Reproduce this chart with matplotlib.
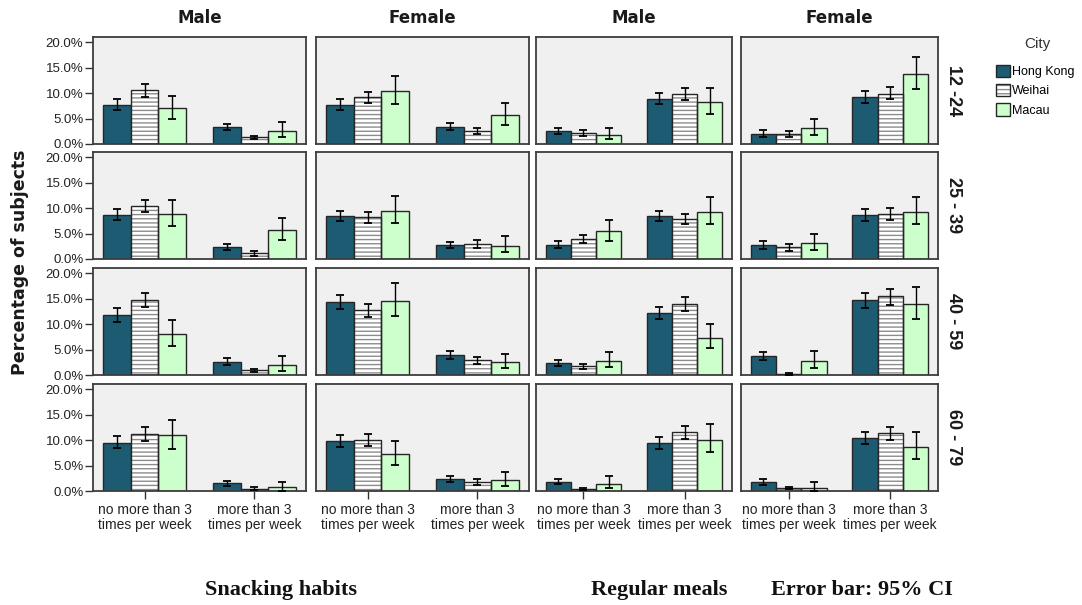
import matplotlib
matplotlib.use("Agg")
import matplotlib.pyplot as plt
from matplotlib.patches import Patch
from matplotlib.legend_handler import HandlerTuple
import numpy as np

plt.rcParams["font.family"] = ["Liberation Sans", "DejaVu Sans"]
plt.rcParams["hatch.linewidth"] = 1.0

cities = ["Hong Kong", "Weihai", "Macau"]
habit_labels = ["no more than 3\ntimes per week", "more than 3\ntimes per week"]
age_groups = ["12 -24", "25 - 39", "40 - 59", "60 - 79"]
panel_titles = ["Male", "Female", "Male", "Female"]
ytick_values = [0, 5, 10, 15, 20]

# Percentages: [age group][panel][habit category]
# panels: snacking male, snacking female, regular meals male, regular meals female
hk_mean = [
    [[7.7, 3.3], [7.7, 3.4], [2.5, 8.9], [2.0, 9.3]],
    [[8.6, 2.3], [8.4, 2.7], [2.75, 8.5], [2.7, 8.65]],
    [[11.8, 2.6], [14.3, 3.95], [2.4, 12.1], [3.7, 14.7]],
    [[9.5, 1.5], [9.8, 2.35], [1.8, 9.5], [1.7, 10.5]],
]
hk_lo = [
    [[6.6, 2.7], [6.6, 2.75], [1.9, 7.8], [1.4, 8.1]],
    [[7.6, 1.8], [7.45, 2.1], [2.1, 7.45], [1.9, 7.45]],
    [[10.5, 1.9], [13.0, 3.2], [1.85, 10.9], [2.9, 13.2]],
    [[8.4, 1.0], [8.6, 1.8], [1.4, 8.3], [1.2, 9.3]],
]
hk_hi = [
    [[8.8, 4.0], [8.8, 4.1], [3.1, 10.0], [2.7, 10.4]],
    [[9.8, 2.9], [9.5, 3.3], [3.45, 9.5], [3.5, 9.75]],
    [[13.1, 3.3], [15.7, 4.8], [3.0, 13.4], [4.5, 16.1]],
    [[10.8, 2.0], [11.0, 2.9], [2.35, 10.6], [2.3, 11.6]],
]

wh_mean = [
    [[10.6, 1.3], [9.2, 2.6], [2.2, 9.8], [1.9, 9.8]],
    [[10.4, 1.1], [8.2, 2.95], [4.0, 7.8], [2.3, 8.9]],
    [[14.8, 0.9], [12.8, 2.9], [1.7, 14.0], [0.2, 15.5]],
    [[11.2, 0.45], [10.0, 1.75], [0.4, 11.5], [0.5, 11.3]],
]
wh_lo = [
    [[9.3, 0.9], [8.1, 2.0], [1.6, 8.7], [1.4, 8.8]],
    [[9.2, 0.65], [7.05, 2.2], [3.1, 6.8], [1.65, 7.7]],
    [[13.4, 0.5], [11.4, 2.2], [1.25, 12.6], [0.05, 13.8]],
    [[9.9, 0.13], [8.8, 1.25], [0.2, 10.2], [0.3, 10.0]],
]
wh_hi = [
    [[11.8, 1.6], [10.3, 3.2], [2.8, 11.0], [2.6, 11.1]],
    [[11.6, 1.5], [9.3, 3.65], [4.8, 8.8], [3.0, 9.95]],
    [[16.1, 1.25], [14.0, 3.55], [2.25, 15.4], [0.4, 16.9]],
    [[12.5, 0.85], [11.2, 2.35], [0.6, 12.7], [0.7, 12.55]],
]

mc_mean = [
    [[7.0, 2.6], [10.4, 5.7], [1.8, 8.3], [3.1, 13.8]],
    [[8.8, 5.6], [9.35, 2.55], [5.4, 9.3], [3.2, 9.2]],
    [[8.0, 2.0], [14.5, 2.5], [2.75, 7.35], [2.8, 13.9]],
    [[11.0, 0.7], [7.2, 2.15], [1.45, 10.1], [0.65, 8.6]],
]
mc_lo = [
    [[4.9, 1.3], [7.8, 3.7], [0.9, 5.8], [1.8, 10.8]],
    [[6.4, 3.7], [7.0, 1.3], [3.5, 6.9], [1.7, 6.8]],
    [[5.7, 0.85], [11.6, 1.3], [1.5, 5.3], [1.4, 10.9]],
    [[8.3, 0.07], [5.1, 1.0], [0.6, 7.6], [0.07, 6.3]],
]
mc_hi = [
    [[9.5, 4.3], [13.3, 8.1], [3.2, 10.9], [4.9, 17.1]],
    [[11.6, 8.0], [12.3, 4.45], [7.6, 12.2], [5.0, 12.2]],
    [[10.7, 3.7], [18.0, 4.2], [4.5, 10.0], [4.7, 17.3]],
    [[14.0, 1.75], [9.8, 3.7], [2.9, 13.1], [1.7, 11.5]],
]

series = [(hk_mean, hk_lo, hk_hi), (wh_mean, wh_lo, wh_hi), (mc_mean, mc_lo, mc_hi)]

HK_COLOR = "#1d5b73"
MC_COLOR = "#ccffcc"
EDGE = "#262626"
HATCH_GRAY = "#8c8c8c"
PANEL_BG = "#f0f0f0"
SPINE = "#3d3d3d"

W, H = 1082, 605
fig = plt.figure(figsize=(W / 100, H / 100), dpi=100)
fig.patch.set_facecolor("white")

col_px = [(93, 306), (316, 529), (536, 732), (741, 938)]
row_px = [(37, 144), (152, 259), (268, 375), (384, 491)]

x = np.arange(2)
offsets = [-0.25, 0.0, 0.25]
bw = 0.25

for r in range(4):
    for c in range(4):
        x0, x1 = col_px[c]
        y0, y1 = row_px[r]
        ax = fig.add_axes([x0 / W, 1 - y1 / H, (x1 - x0) / W, (y1 - y0) / H])
        ax.set_facecolor(PANEL_BG)
        for k, (mean, lo, hi) in enumerate(series):
            m = np.array(mean[r][c])
            l = np.array(lo[r][c])
            h = np.array(hi[r][c])
            xs = x + offsets[k]
            if k == 1:
                ax.bar(xs, m, bw, color="white", edgecolor=HATCH_GRAY,
                       linewidth=0, hatch="----", zorder=2)
                ax.bar(xs, m, bw, fill=False, edgecolor=EDGE, linewidth=1.0, zorder=3)
            else:
                ax.bar(xs, m, bw, color=HK_COLOR if k == 0 else MC_COLOR,
                       edgecolor=EDGE, linewidth=1.0, zorder=2)
            ax.errorbar(xs, m, yerr=[m - l, h - m], fmt="none", ecolor="black",
                        elinewidth=1.0, capsize=3, capthick=1.3, zorder=4)
        ax.set_xlim(-0.47, 1.47)
        ax.set_ylim(0, 21)
        for s in ax.spines.values():
            s.set_color(SPINE)
            s.set_linewidth(1.3)
        ax.tick_params(direction="out", length=6, width=1, color="#333333",
                       labelsize=9.5, labelcolor="#222222", pad=1)
        if c == 0:
            ax.set_yticks(ytick_values)
            ax.set_yticklabels([f"{v:.1f}%" for v in ytick_values])
        else:
            ax.set_yticks([])
        if r == 3:
            ax.set_xticks(x)
            ax.set_xticklabels(habit_labels, fontsize=10, linespacing=1.0)
            ax.tick_params(axis="x", pad=3)
        else:
            ax.set_xticks([])

# Column titles
for c, t in enumerate(panel_titles):
    xc = (col_px[c][0] + col_px[c][1]) / 2 / W
    fig.text(xc, 1 - 18 / H, t, ha="center", va="center", fontsize=12,
             fontweight="bold", family="DejaVu Sans", color="#1a1a1a")

# Age group labels on the right
for r, t in enumerate(age_groups):
    yc = (row_px[r][0] + row_px[r][1]) / 2
    fig.text(954 / W, 1 - yc / H, t, ha="center", va="center", rotation=-90,
             fontsize=13, fontweight="bold", color="#1a1a1a")

# Shared y label
fig.text(20 / W, 1 - 262 / H, "Percentage of subjects", rotation=90,
         ha="center", va="center", fontsize=12.5, fontweight="bold",
         family="DejaVu Sans", color="#1a1a1a")

# Legend (title placed separately above the entries)
fig.text(1037 / W, 1 - 44 / H, "City", ha="center", va="center",
         fontsize=11, color="#333333")
h_hk = Patch(facecolor=HK_COLOR, edgecolor=EDGE, linewidth=1)
h_wh = (Patch(facecolor="white", edgecolor=HATCH_GRAY, linewidth=0, hatch="----"),
        Patch(fill=False, edgecolor=EDGE, linewidth=1))
h_mc = Patch(facecolor=MC_COLOR, edgecolor=EDGE, linewidth=1)
leg = fig.legend([h_hk, h_wh, h_mc], cities,
                 handler_map={tuple: HandlerTuple(ndivide=1, pad=0)},
                 loc="upper left", bbox_to_anchor=(996 / W, 1 - 65 / H),
                 frameon=False, fontsize=9,
                 handlelength=1.1, handleheight=1.15, handletextpad=0.15,
                 labelspacing=0.45, borderpad=0, borderaxespad=0)

# Bottom captions
for xc, t in [(281, "Snacking habits"), (659, "Regular meals"), (862, "Error bar: 95% CI")]:
    fig.text(xc / W, 1 - 590 / H, t, ha="center", va="center", fontsize=16,
             fontweight="bold", family="Liberation Serif", color="#111111")

fig.savefig("out.png", dpi=100)
